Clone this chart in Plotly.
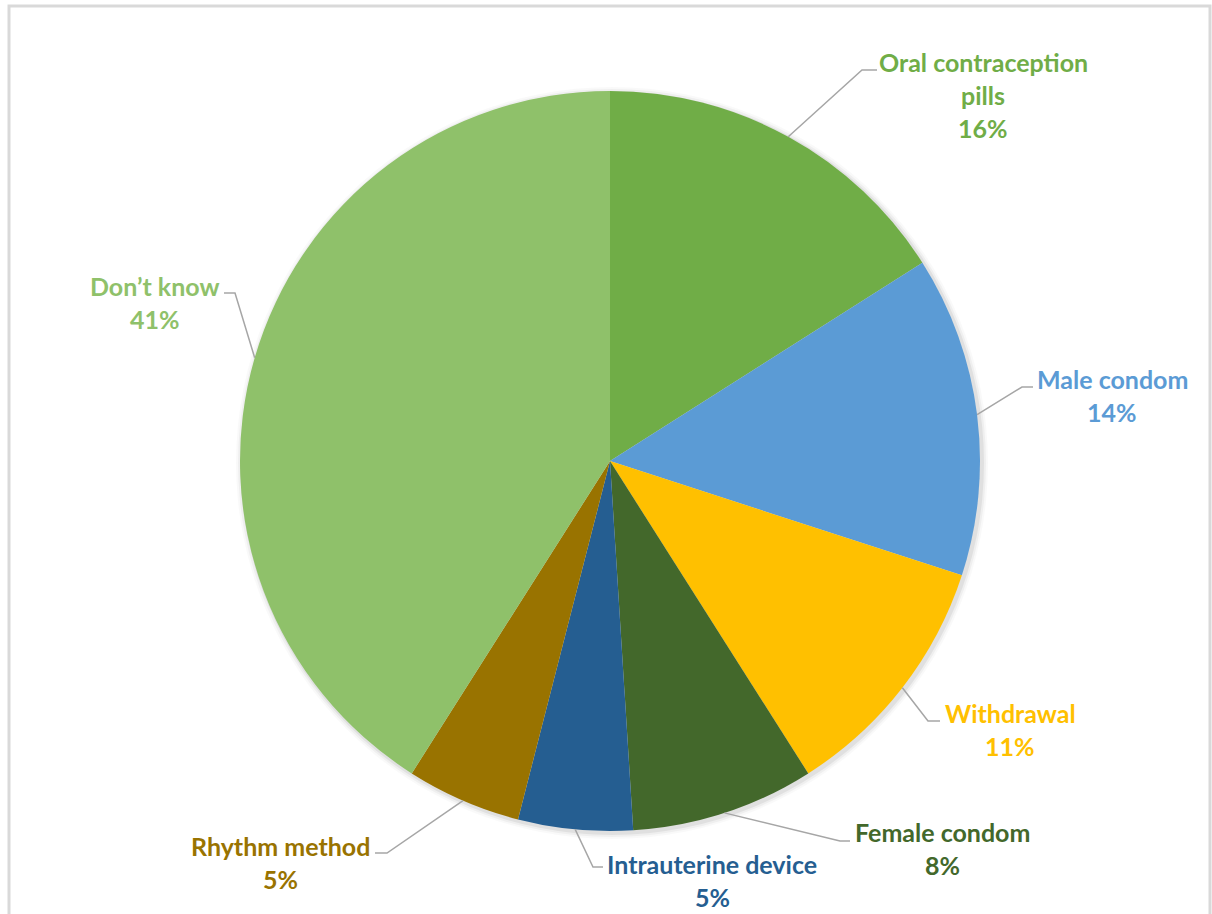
import math
import plotly.graph_objects as go

W, H = 1212, 914

# contraceptive method shares (%)
methods = ["Oral contraception pills", "Male condom", "Withdrawal", "Female condom",
           "Intrauterine device", "Rhythm method", "Don’t know"]
label_lines = [["Oral contraception", "pills"], ["Male condom"], ["Withdrawal"],
               ["Female condom"], ["Intrauterine device"], ["Rhythm method"], ["Don’t know"]]
shares = [16, 14, 11, 8, 5, 5, 41]
colors = ["#70AD47", "#5B9BD5", "#FFC000", "#43682B", "#255E91", "#997300", "#8FC16A"]

# pie geometry (pixels)
CX, CY, R = 610, 461, 370

# label placement: centre x and y of first text line (pixels)
label_xy = [(983, 62), (1112, 379), (1010, 713), (942, 832), (712, 864), (280, 846), (155, 286)]
# leader line elbow and end points (pixels)
leader_elbow = [(862, 70), (1022, 387), (928, 721), (840, 841), (593, 867), (387, 853), (235, 293)]
leader_end = [(877, 70), (1033, 387), (940, 721), (850, 841), (603, 867), (375, 853), (224, 293)]
LINE_PITCH = 33
FONT = "Lato"
FONT_SIZE = 25


def px(x):
    return x / W


def py(y):
    return 1 - y / H


fig = go.Figure()
fig.add_trace(go.Pie(
    labels=methods,
    values=shares,
    sort=False,
    direction="clockwise",
    rotation=0,
    marker=dict(colors=colors, line=dict(width=0)),
    textinfo="none",
    hoverinfo="label+percent",
    showlegend=False,
    domain=dict(x=[px(CX - R), px(CX + R)], y=[py(CY + R), py(CY - R)]),
))

shapes = []
# chart area border
shapes.append(dict(type="rect", xref="paper", yref="paper",
                   x0=px(9), x1=px(1210), y0=py(930), y1=py(6),
                   line=dict(color="#D9D9D9", width=3), fillcolor="rgba(0,0,0,0)"))
# soft shadow under the pie
for dr, a in [(6, 0.025), (4, 0.04), (2, 0.06)]:
    shapes.append(dict(type="circle", xref="paper", yref="paper", layer="below",
                       x0=px(CX - R - dr + 2), x1=px(CX + R + dr + 2),
                       y0=py(CY + R + dr + 2), y1=py(CY - R - dr + 2),
                       line=dict(width=0), fillcolor=f"rgba(0,0,0,{a})"))

annotations = []
total = sum(shares)
cum = 0
for i, v in enumerate(shares):
    theta = 2 * math.pi * (cum + v / 2) / total
    cum += v
    sx = CX + R * math.sin(theta)
    sy = CY - R * math.cos(theta)
    ex, ey = leader_elbow[i]
    fx, fy = leader_end[i]
    shapes.append(dict(type="path", xref="paper", yref="paper",
                       path=f"M {px(sx)},{py(sy)} L {px(ex)},{py(ey)} L {px(fx)},{py(fy)}",
                       line=dict(color="#A6A6A6", width=1.5)))
    lines = label_lines[i] + [f"{v}%"]
    lx, ly = label_xy[i]
    for k, t in enumerate(lines):
        annotations.append(dict(x=px(lx), y=py(ly + k * LINE_PITCH), xref="paper", yref="paper",
                                text=f"<b>{t}</b>", showarrow=False,
                                xanchor="center", yanchor="middle",
                                font=dict(family=FONT, size=FONT_SIZE, color=colors[i])))

fig.update_layout(
    width=W, height=H,
    margin=dict(l=0, r=0, t=0, b=0),
    paper_bgcolor="white",
    plot_bgcolor="white",
    shapes=shapes,
    annotations=annotations,
)

fig.write_html("out.html")
